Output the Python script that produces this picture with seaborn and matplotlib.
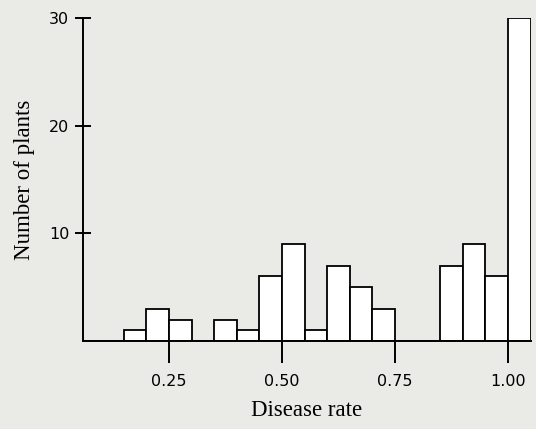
import numpy as np
import seaborn as sns
import matplotlib
matplotlib.use('Agg')
import matplotlib.pyplot as plt

# histogram bins (width 0.05)
bin_edges = [0.05, 0.10, 0.15, 0.20, 0.25, 0.30, 0.35, 0.40, 0.45, 0.50,
             0.55, 0.60, 0.65, 0.70, 0.75, 0.80, 0.85, 0.90, 0.95, 1.00, 1.05]
bin_mid = [0.075, 0.125, 0.175, 0.225, 0.275, 0.325, 0.375, 0.425, 0.475, 0.525,
           0.575, 0.625, 0.675, 0.725, 0.775, 0.825, 0.875, 0.925, 0.975, 1.025]
n_plants = [0, 0, 1, 3, 2, 0, 2, 1, 6, 9,
            1, 7, 5, 3, 0, 0, 7, 9, 6, 30]
x_ticks = [0.25, 0.50, 0.75, 1.00]
x_labels = ['0.25', '0.50', '0.75', '1.00']
y_ticks = [10, 20, 30]

sns.set_style('ticks')
bg = '#eaeae6'

fig = plt.figure(figsize=(5.36, 4.29), dpi=100, facecolor=bg)
ax = fig.add_axes([0.155, 0.205, 0.835, 0.753])
ax.set_facecolor(bg)

sns.histplot(x=bin_mid, weights=n_plants, bins=bin_edges, ax=ax,
             color='white', edgecolor='black', linewidth=1.3, alpha=1)

ax.set_xlim(0.06, 1.05)
ax.set_ylim(0, 30)
ax.set_xticks(x_ticks)
ax.set_xticklabels(x_labels)
ax.set_yticks(y_ticks)

for s in ['top', 'right']:
    ax.spines[s].set_visible(False)
for s in ['left', 'bottom']:
    ax.spines[s].set_linewidth(1.4)
    ax.spines[s].set_color('black')

ax.tick_params(axis='x', direction='out', length=16, width=1.4, labelsize=11.5, pad=8,
               colors='black')
ax.tick_params(axis='y', direction='inout', length=12, width=1.4, labelsize=11.5, pad=4,
               colors='black')

ax.set_xlabel('Disease rate', family='Liberation Serif', fontsize=16.5, labelpad=8,
              color='black')
ax.set_ylabel('Number of plants', family='Liberation Serif', fontsize=16.5, labelpad=10,
              color='black')

plt.savefig('out.png', dpi=100, facecolor=bg)
